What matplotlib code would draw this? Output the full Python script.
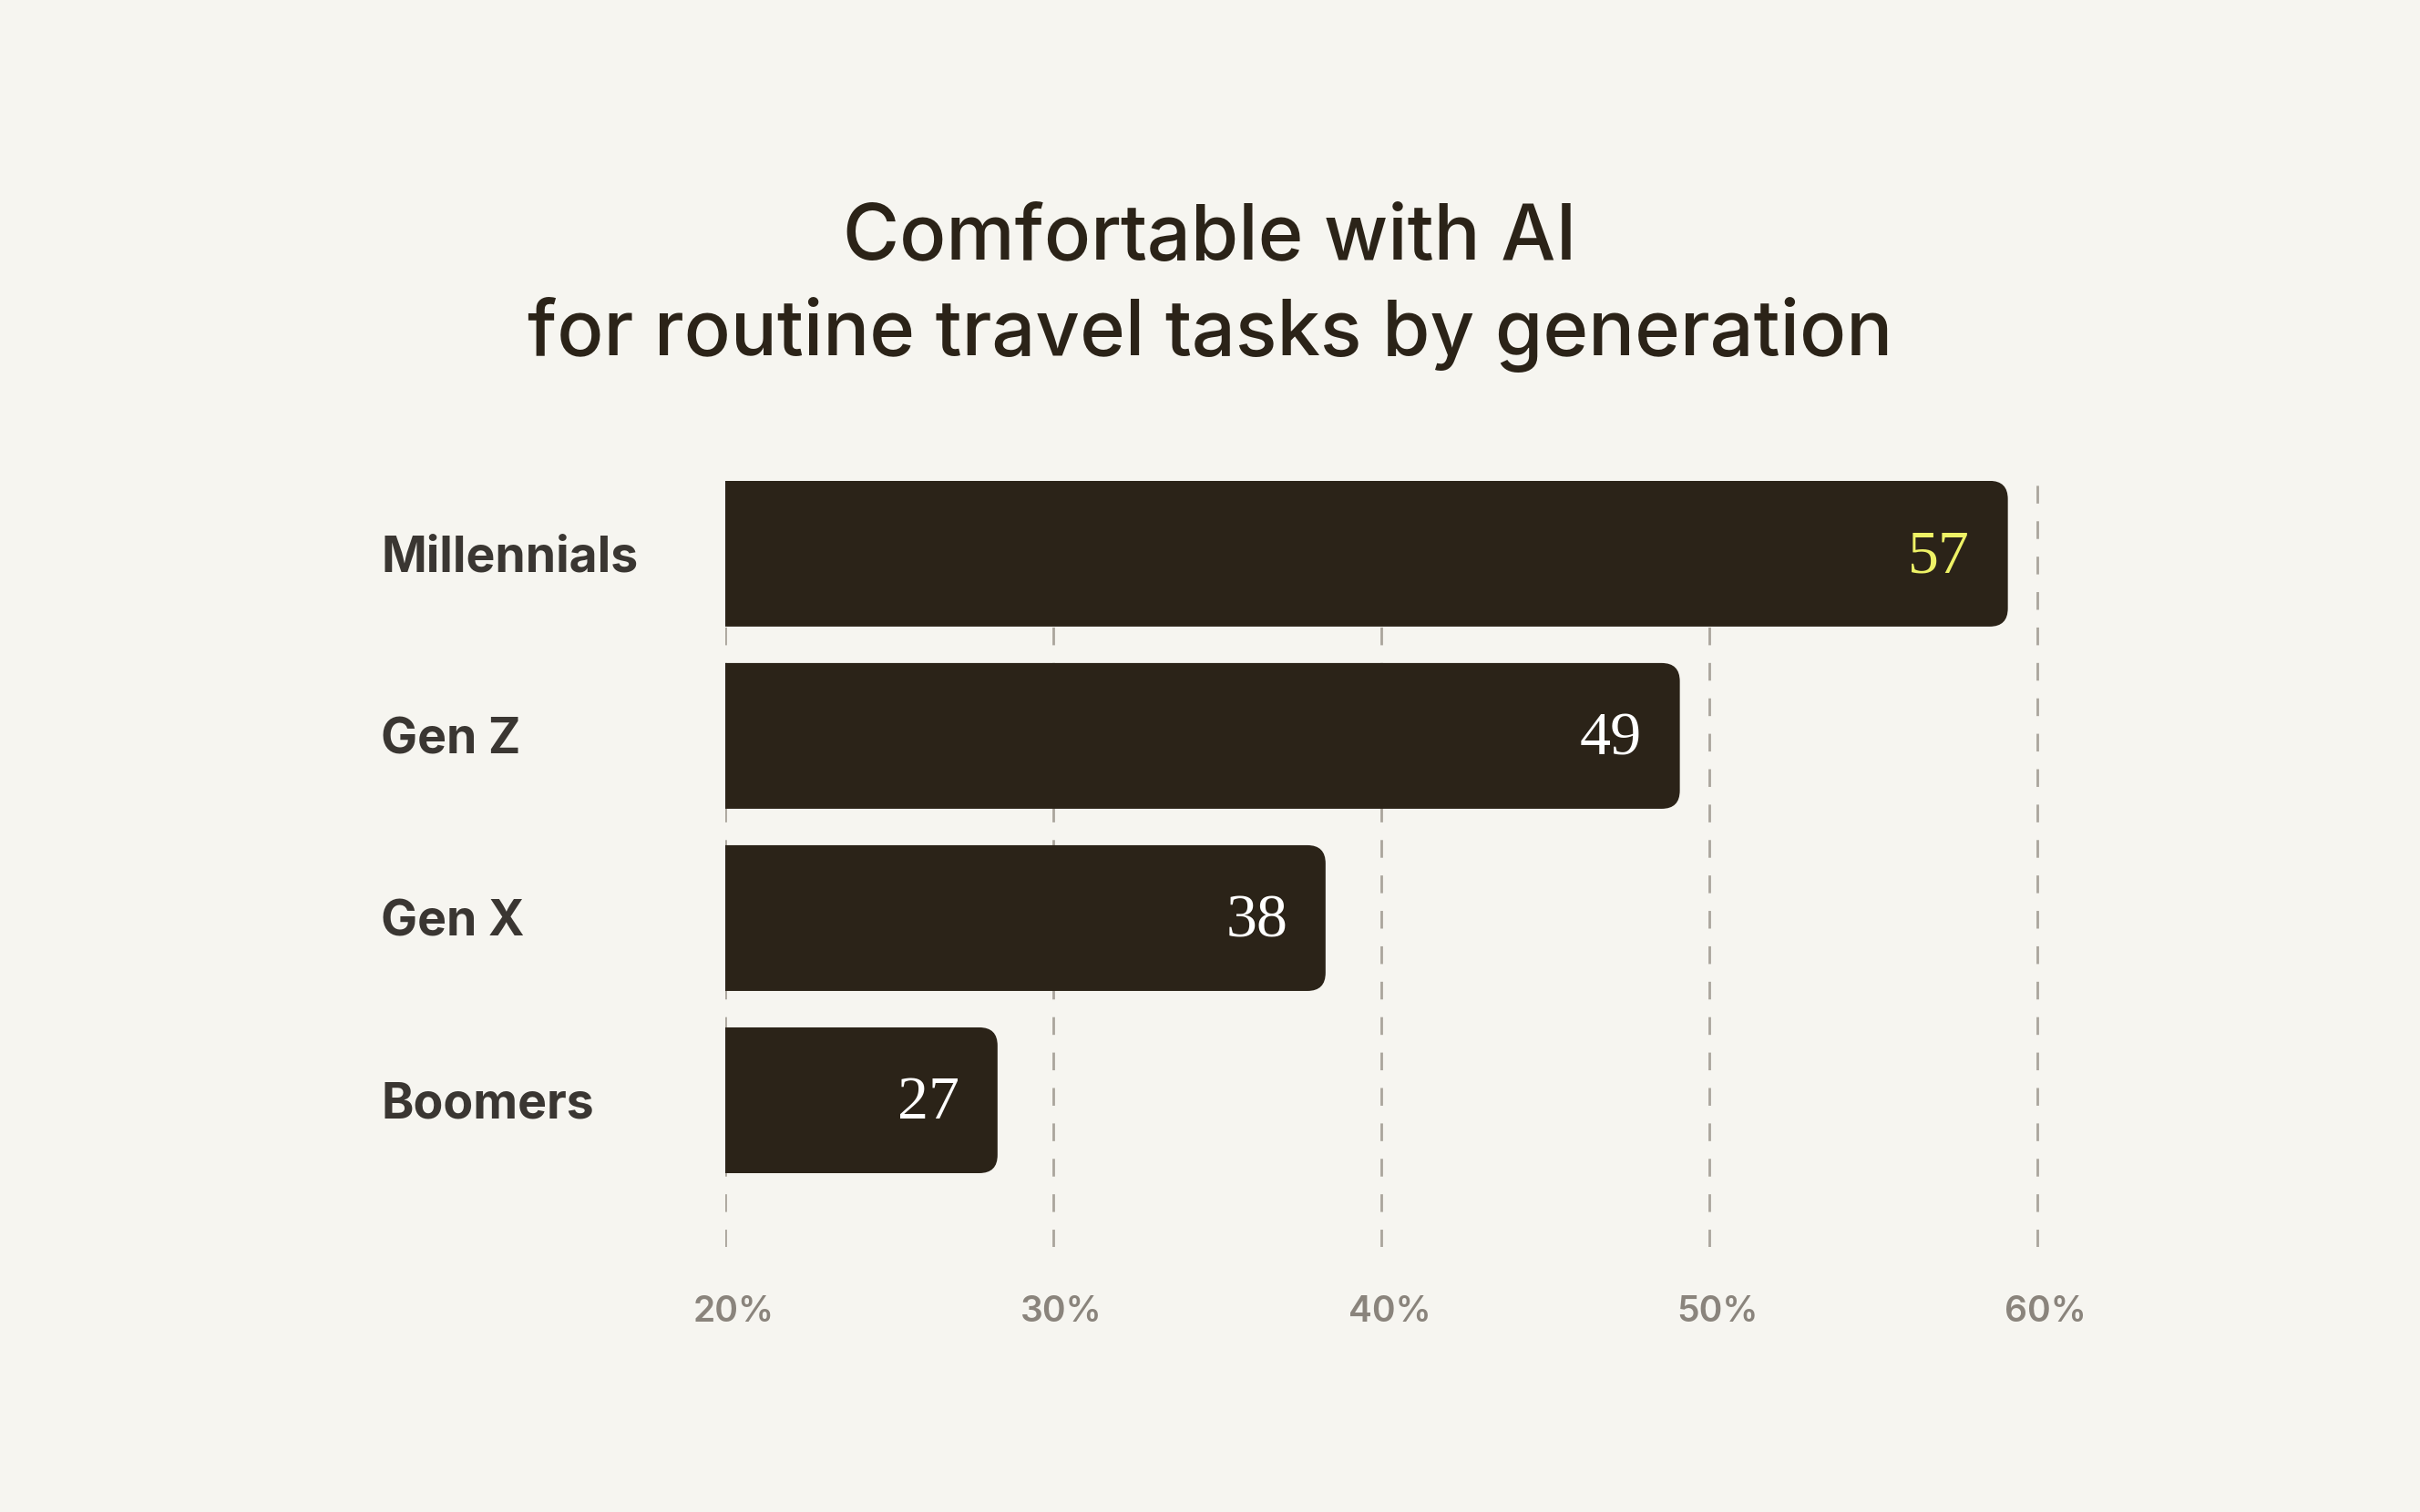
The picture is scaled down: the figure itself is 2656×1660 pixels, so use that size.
import matplotlib
matplotlib.use("Agg")
import matplotlib.pyplot as plt
import matplotlib.transforms as mtransforms
from matplotlib.patches import FancyBboxPatch

# data
generations = ["Millennials", "Gen Z", "Gen X", "Boomers"]
bar_lengths = [59.1, 49.1, 38.3, 28.3]  # where the bars actually end
value_labels = ["57", "49", "38", "27"]
ticks = [20, 30, 40, 50, 60]
tick_labels = ["20%", "30%", "40%", "50%", "60%"]

bg = "#f6f5f0"
bar_color = "#2b2318"
grid_color = "#aaa59c"

plt.rcParams["font.family"] = ["Inter", "DejaVu Sans"]

fig = plt.figure(figsize=(26.56, 16.6), dpi=100, facecolor=bg)
ax = fig.add_axes([0.2997, 0.1753, 0.5693, 0.682 - 0.1753])
ax.set_facecolor(bg)

x0, x1 = 20, 62
y0, y1 = 3.805, -0.4
ax.set_xlim(x0, x1)
ax.set_ylim(y0, y1)

# grid lines
for t in ticks:
    ax.axvline(t, color=grid_color, lw=2, linestyle=(0, (7, 7)), zorder=1)

# rounded bars, left edge hidden behind the axes edge
bar_h = 0.8
ax_w_px = 0.5693 * 2656
ax_h_px = (0.682 - 0.1753) * 1660
px_x = ax_w_px / (x1 - x0)
px_y = ax_h_px / (y0 - y1)
for i, v in enumerate(bar_lengths):
    r = 20 / px_x
    patch = FancyBboxPatch((x0 - 2, i - bar_h / 2), v - (x0 - 2), bar_h,
                           boxstyle=f"round,pad=0,rounding_size={r}",
                           mutation_aspect=px_x / px_y,
                           facecolor=bar_color, edgecolor="none", zorder=2)
    ax.add_patch(patch)
    ax.text(v - 1.15, i + 0.02, value_labels[i], ha="right", va="center",
            fontsize=49, family=["Liberation Serif", "DejaVu Serif"],
            color="#eef266" if i == 0 else "white", zorder=3)

ax.set_xticks(ticks)
ax.set_xticklabels(tick_labels, fontsize=28, color="#8a847c", fontweight="semibold")
ax.tick_params(axis="x", length=0, pad=38)
offset = mtransforms.ScaledTranslation(9 / 100, 0, fig.dpi_scale_trans)
for lab in ax.get_xticklabels():
    lab.set_transform(lab.get_transform() + offset)

ax.set_yticks(range(len(generations)))
ax.set_yticklabels(generations, fontsize=38.5, fontweight="bold", color="#3a3632", ha="left")
ax.tick_params(axis="y", length=0, pad=272)

for s in ax.spines.values():
    s.set_visible(False)

fig.text(0.5, 1 - 285 / 1660, "Comfortable with AI", ha="center", va="baseline",
         fontsize=61, color="#2b2318", fontweight="medium")
fig.text(0.5, 1 - 390 / 1660, "for routine travel tasks by generation", ha="center",
         va="baseline", fontsize=61, color="#2b2318", fontweight="medium")

fig.savefig("out.png", dpi=100, facecolor=bg)
